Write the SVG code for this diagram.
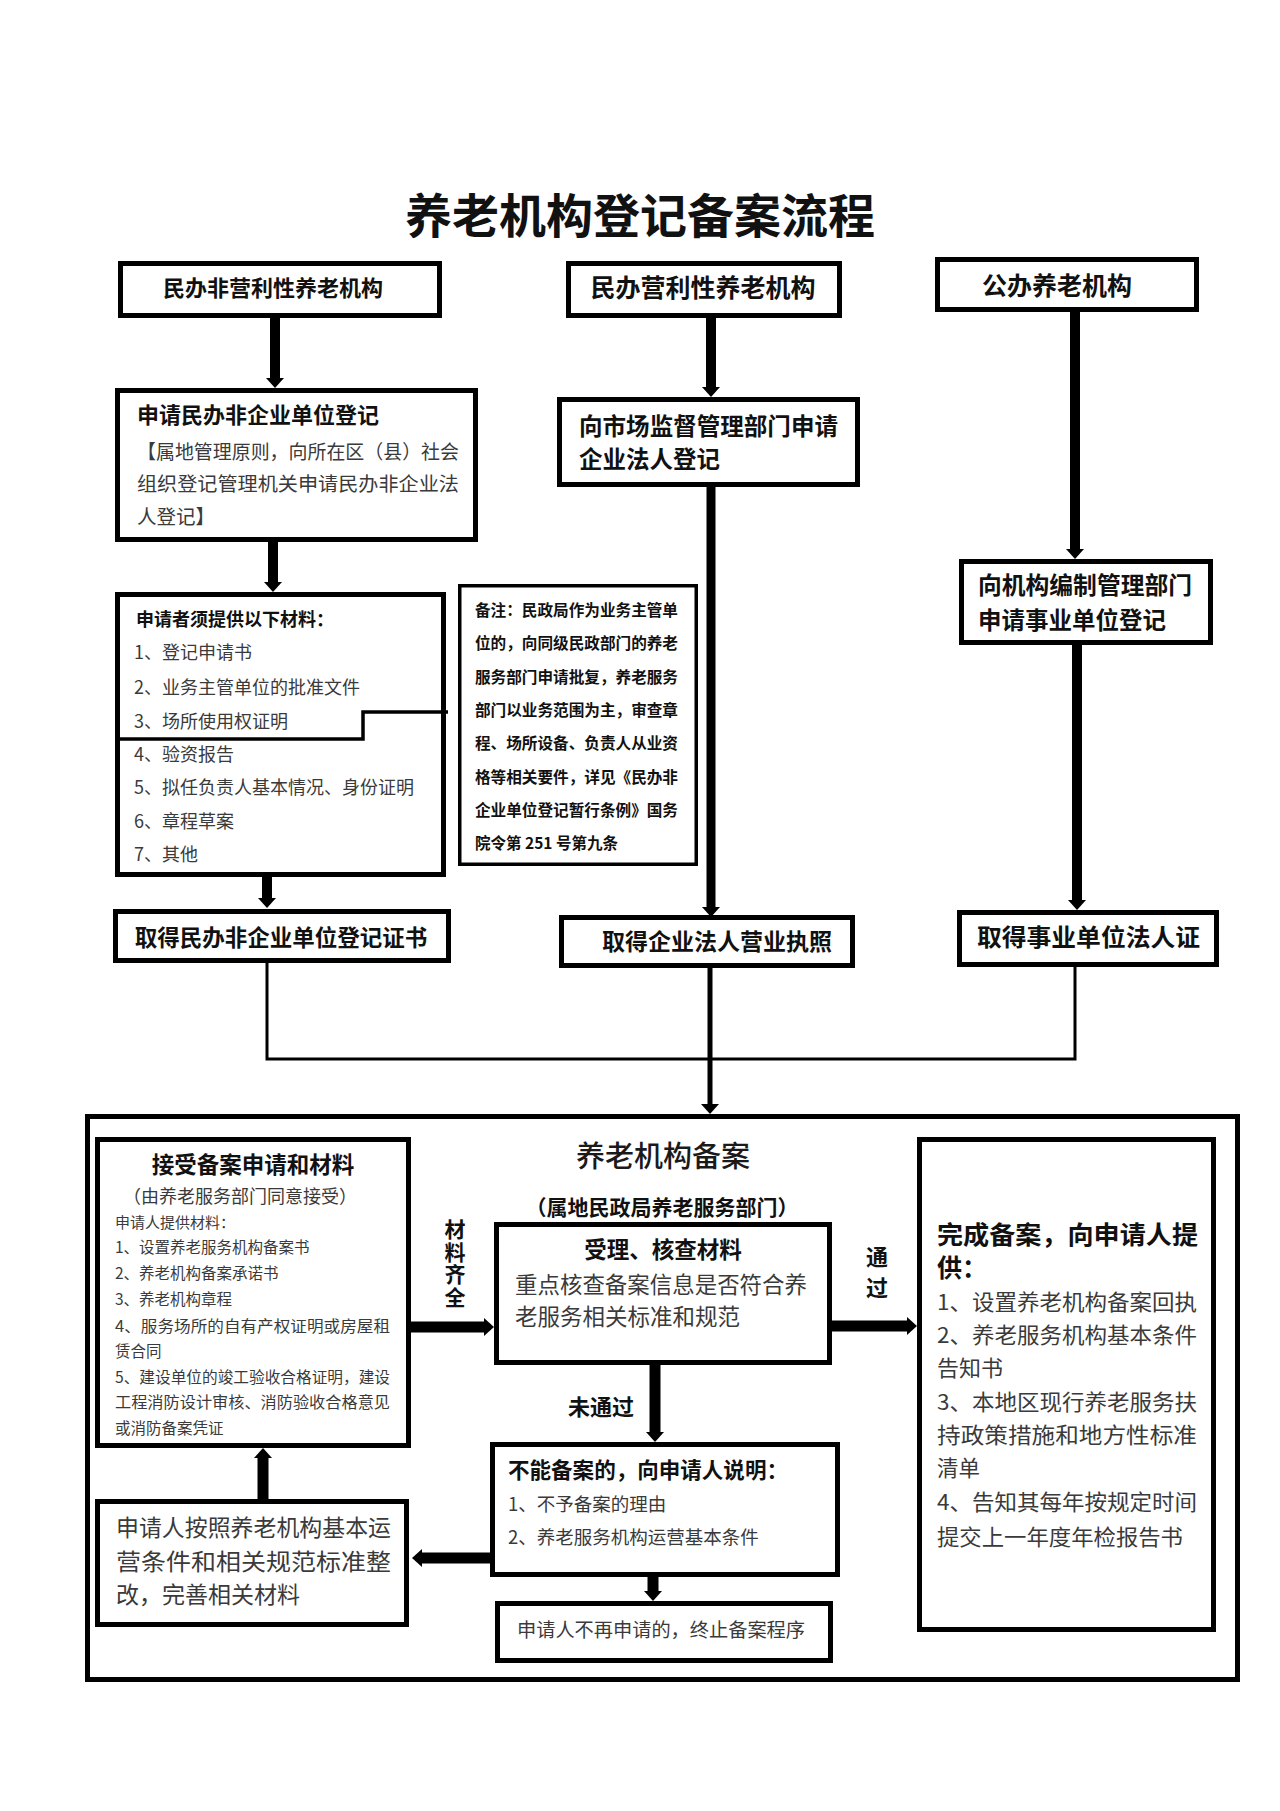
<svg xmlns="http://www.w3.org/2000/svg" width="1280" height="1811" viewBox="0 0 1280 1811">
<defs>
<marker id="ah" viewBox="0 0 10 18" refX="0" refY="9" markerWidth="10" markerHeight="18" markerUnits="userSpaceOnUse" orient="auto">
<path d="M0,0 L10,9 L0,18 z" fill="#000"/>
</marker>
<style>
.box{fill:#fff;stroke:#000;stroke-width:5}
.thin{fill:#fff;stroke:#000;stroke-width:3.5}
text{font-family:"Noto Sans CJK SC","Noto Sans CJK TC",sans-serif;fill:#1a1a1a}
.b{font-weight:bold;fill:#111}
.r{fill:#3a3a3a}
.m{text-anchor:middle}
.v{writing-mode:tb;glyph-orientation-vertical:0}
.arr{stroke:#000;stroke-width:10;fill:none}
.arr2{stroke:#000;stroke-width:11;fill:none}
.ln{stroke:#000;stroke-width:3;fill:none}
</style>
</defs>
<rect width="1280" height="1811" fill="#fff"/>

<text class="b m" x="640" y="233" font-size="47">养老机构登记备案流程</text>

<g id="connectors">
<line class="arr" x1="275" y1="318" x2="275" y2="378" marker-end="url(#ah)"/>
<line class="arr" x1="273" y1="542" x2="273" y2="582" marker-end="url(#ah)"/>
<line class="arr" x1="267" y1="877" x2="267" y2="898" marker-end="url(#ah)"/>
<line class="arr" x1="711" y1="318" x2="711" y2="387" marker-end="url(#ah)"/>
<line class="arr" style="stroke-width:9" x1="711" y1="487" x2="711" y2="907" marker-end="url(#ah)"/>
<line class="arr" x1="1075" y1="312" x2="1075" y2="549" marker-end="url(#ah)"/>
<line class="arr" x1="1077" y1="645" x2="1077" y2="900" marker-end="url(#ah)"/>
<polyline class="ln" points="267,963 267,1059 1075,1059 1075,967"/>
<line class="arr" style="stroke-width:5" x1="710" y1="967" x2="710" y2="1104" marker-end="url(#ah)"/>
<line class="arr2" x1="411" y1="1327" x2="484" y2="1327" marker-end="url(#ah)"/>
<line class="arr2" x1="832" y1="1326" x2="907" y2="1326" marker-end="url(#ah)"/>
<line class="arr2" x1="655" y1="1365" x2="655" y2="1432" marker-end="url(#ah)"/>
<line class="arr2" x1="490" y1="1558" x2="422" y2="1558" marker-end="url(#ah)"/>
<line class="arr2" x1="263" y1="1499" x2="263" y2="1458" marker-end="url(#ah)"/>
<line class="arr2" x1="653" y1="1577" x2="653" y2="1591" marker-end="url(#ah)"/>
</g>

<g id="n-feiyingli">
<rect class="box" x="120.5" y="263.5" width="319" height="52"/>
<text class="b m" x="273" y="296" font-size="22">民办非营利性养老机构</text>
</g>
<g id="n-yingli">
<rect class="box" x="568.5" y="263.5" width="271" height="52"/>
<text class="b m" x="703" y="297" font-size="25">民办营利性养老机构</text>
</g>
<g id="n-gongban">
<rect class="box" x="937.5" y="259.5" width="259" height="50"/>
<text class="b m" x="1057" y="295" font-size="25">公办养老机构</text>
</g>

<g id="n-shenqing-minban">
<rect class="box" x="117.5" y="390.5" width="358" height="149"/>
<text class="b" x="137" y="423" font-size="22">申请民办非企业单位登记</text>
<text class="r" x="137" y="459" font-size="19.5" textLength="322" lengthAdjust="spacingAndGlyphs">【属地管理原则，向所在区（县）社会</text>
<text class="r" x="137" y="491" font-size="19.5" textLength="322" lengthAdjust="spacingAndGlyphs">组织登记管理机关申请民办非企业法</text>
<text class="r" x="137" y="524" font-size="19.5">人登记】</text>
</g>

<g id="n-cailiao">
<rect class="box" x="117.5" y="594.5" width="326" height="280"/>
<text class="b" x="136" y="626" font-size="18">申请者须提供以下材料：</text>
<text class="r" x="134" y="659" font-size="18">1、登记申请书</text>
<text class="r" x="134" y="694" font-size="18">2、业务主管单位的批准文件</text>
<text class="r" x="134" y="728" font-size="18">3、场所使用权证明</text>
<text class="r" x="134" y="761" font-size="18">4、验资报告</text>
<text class="r" x="134" y="794" font-size="18">5、拟任负责人基本情况、身份证明</text>
<text class="r" x="134" y="828" font-size="18">6、章程草案</text>
<text class="r" x="134" y="861" font-size="18">7、其他</text>
<polyline points="120,739 363,739 363,712 448,712" fill="none" stroke="#000" stroke-width="3.5"/>
</g>

<g id="n-beizhu">
<rect class="thin" x="459.75" y="585.75" width="236.5" height="278.5"/>
<text class="b" x="475" y="616" font-size="15.5" textLength="203" lengthAdjust="spacingAndGlyphs">备注：民政局作为业务主管单</text>
<text class="b" x="475" y="649" font-size="15.5" textLength="203" lengthAdjust="spacingAndGlyphs">位的，向同级民政部门的养老</text>
<text class="b" x="475" y="683" font-size="15.5" textLength="203" lengthAdjust="spacingAndGlyphs">服务部门申请批复，养老服务</text>
<text class="b" x="475" y="716" font-size="15.5" textLength="203" lengthAdjust="spacingAndGlyphs">部门以业务范围为主，审查章</text>
<text class="b" x="475" y="749" font-size="15.5" textLength="203" lengthAdjust="spacingAndGlyphs">程、场所设备、负责人从业资</text>
<text class="b" x="475" y="783" font-size="15.5" textLength="203" lengthAdjust="spacingAndGlyphs">格等相关要件，详见《民办非</text>
<text class="b" x="475" y="816" font-size="15.5" textLength="203" lengthAdjust="spacingAndGlyphs">企业单位登记暂行条例》国务</text>
<text class="b" x="475" y="849" font-size="15.5">院令第 251 号第九条</text>
</g>

<g id="n-zhengshu">
<rect class="box" x="115.5" y="911.5" width="333" height="49"/>
<text class="b m" x="281" y="946" font-size="22.5">取得民办非企业单位登记证书</text>
</g>

<g id="n-shichang">
<rect class="box" x="559.5" y="399.5" width="298" height="85"/>
<text class="b" x="579" y="435" font-size="23.5" textLength="259" lengthAdjust="spacingAndGlyphs">向市场监督管理部门申请</text>
<text class="b" x="579" y="468" font-size="23.5">企业法人登记</text>
</g>
<g id="n-zhizhao">
<rect class="box" x="561.5" y="917.5" width="291" height="48"/>
<text class="b m" x="717" y="950" font-size="23">取得企业法人营业执照</text>
</g>

<g id="n-bianzhi">
<rect class="box" x="961.5" y="561.5" width="249" height="81"/>
<text class="b" x="978" y="594" font-size="23.5" textLength="214" lengthAdjust="spacingAndGlyphs">向机构编制管理部门</text>
<text class="b" x="978" y="629" font-size="23.5">申请事业单位登记</text>
</g>
<g id="n-shiye">
<rect class="box" x="959.5" y="912.5" width="257" height="52"/>
<text class="b" x="977" y="946" font-size="24" textLength="223" lengthAdjust="spacingAndGlyphs">取得事业单位法人证</text>
</g>

<g id="n-beian-frame">
<rect fill="none" stroke="#000" stroke-width="5" x="87.5" y="1116.5" width="1150" height="563"/>
<text class="m" x="663" y="1167" font-size="29" style="font-weight:500">养老机构备案</text>
<text class="b m" x="662" y="1215" font-size="21">（属地民政局养老服务部门）</text>
</g>

<g id="n-jieshou">
<rect class="box" x="97.5" y="1139.5" width="311" height="306"/>
<text class="b m" x="253" y="1173" font-size="22.5">接受备案申请和材料</text>
<text class="r m" x="240" y="1203" font-size="18">（由养老服务部门同意接受）</text>
<text class="r" x="115" y="1228" font-size="15">申请人提供材料：</text>
<text class="r" x="115" y="1253" font-size="15.5">1、设置养老服务机构备案书</text>
<text class="r" x="115" y="1279" font-size="15.5">2、养老机构备案承诺书</text>
<text class="r" x="115" y="1305" font-size="15.5">3、养老机构章程</text>
<text class="r" x="115" y="1332" font-size="15.5" textLength="275" lengthAdjust="spacingAndGlyphs">4、服务场所的自有产权证明或房屋租</text>
<text class="r" x="115" y="1357" font-size="15.5">赁合同</text>
<text class="r" x="115" y="1383" font-size="15.5" textLength="275" lengthAdjust="spacingAndGlyphs">5、建设单位的竣工验收合格证明，建设</text>
<text class="r" x="115" y="1408" font-size="15.5" textLength="275" lengthAdjust="spacingAndGlyphs">工程消防设计审核、消防验收合格意见</text>
<text class="r" x="115" y="1434" font-size="15.5">或消防备案凭证</text>
</g>

<g id="lbl-qiquan">
<text class="b v" x="455" y="1219" font-size="21" letter-spacing="1.5">材料齐全</text>
</g>

<g id="n-shouli">
<rect class="box" x="496.5" y="1224.5" width="333" height="138"/>
<text class="b m" x="663" y="1258" font-size="22.5">受理、核查材料</text>
<text class="r" x="515" y="1293" font-size="22.5" textLength="292" lengthAdjust="spacingAndGlyphs">重点核查备案信息是否符合养</text>
<text class="r" x="515" y="1325" font-size="22.5">老服务相关标准和规范</text>
</g>

<g id="lbl-tongguo">
<text class="b v" x="877" y="1246" font-size="22" letter-spacing="9">通过</text>
</g>

<g id="n-wancheng">
<rect class="box" x="919.5" y="1139.5" width="294" height="490"/>
<text class="b" x="937" y="1244" font-size="25" textLength="261" lengthAdjust="spacingAndGlyphs">完成备案，向申请人提</text>
<text class="b" x="937" y="1277" font-size="25">供：</text>
<text class="r" x="937" y="1310" font-size="21.5" textLength="260" lengthAdjust="spacingAndGlyphs">1、设置养老机构备案回执</text>
<text class="r" x="937" y="1343" font-size="21.5" textLength="260" lengthAdjust="spacingAndGlyphs">2、养老服务机构基本条件</text>
<text class="r" x="937" y="1376" font-size="21.5" textLength="66" lengthAdjust="spacingAndGlyphs">告知书</text>
<text class="r" x="937" y="1410" font-size="21.5" textLength="260" lengthAdjust="spacingAndGlyphs">3、本地区现行养老服务扶</text>
<text class="r" x="937" y="1443" font-size="21.5" textLength="260" lengthAdjust="spacingAndGlyphs">持政策措施和地方性标准</text>
<text class="r" x="937" y="1476" font-size="21.5" textLength="43" lengthAdjust="spacingAndGlyphs">清单</text>
<text class="r" x="937" y="1510" font-size="21.5" textLength="260" lengthAdjust="spacingAndGlyphs">4、告知其每年按规定时间</text>
<text class="r" x="937" y="1545" font-size="21.5" textLength="246" lengthAdjust="spacingAndGlyphs">提交上一年度年检报告书</text>
</g>

<text class="b m" x="601" y="1415" font-size="22">未通过</text>

<g id="n-buneng">
<rect class="box" x="492.5" y="1444.5" width="345" height="130"/>
<text class="b" x="508" y="1478" font-size="21.5" textLength="280" lengthAdjust="spacingAndGlyphs">不能备案的，向申请人说明：</text>
<text class="r" x="508" y="1511" font-size="18.5">1、不予备案的理由</text>
<text class="r" x="508" y="1544" font-size="18.5">2、养老服务机构运营基本条件</text>
</g>

<g id="n-zhenggai">
<rect class="box" x="97.5" y="1501.5" width="309" height="123"/>
<text class="r" x="116" y="1536" font-size="23" textLength="275" lengthAdjust="spacingAndGlyphs">申请人按照养老机构基本运</text>
<text class="r" x="116" y="1570" font-size="23" textLength="275" lengthAdjust="spacingAndGlyphs">营条件和相关规范标准整</text>
<text class="r" x="116" y="1603" font-size="23">改，完善相关材料</text>
</g>

<g id="n-zhongzhi">
<rect class="box" x="497.5" y="1603.5" width="333" height="57"/>
<text class="r" x="517" y="1637" font-size="19" textLength="288" lengthAdjust="spacingAndGlyphs">申请人不再申请的，终止备案程序</text>
</g>
</svg>
